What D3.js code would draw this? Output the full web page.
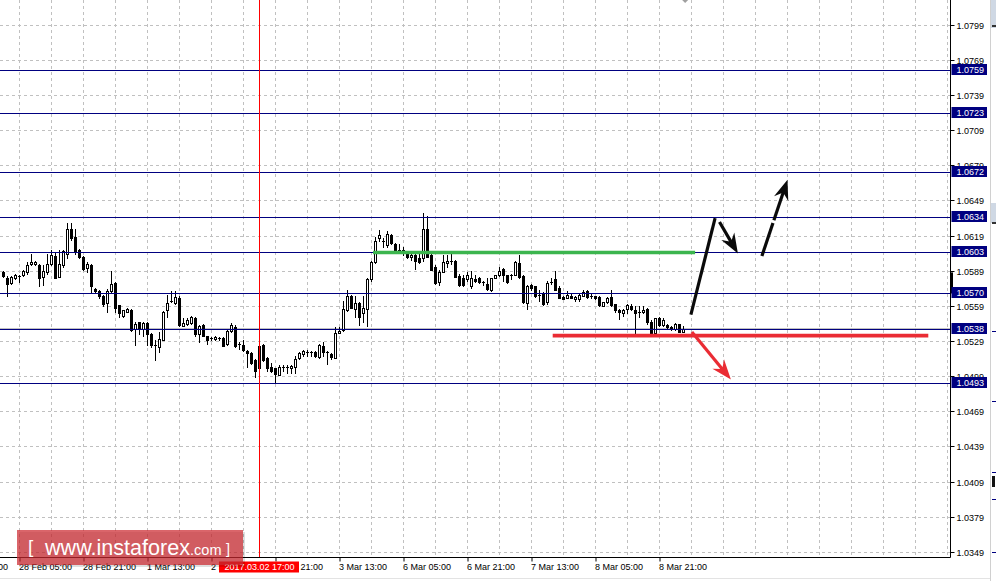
<!DOCTYPE html>
<html><head><meta charset="utf-8">
<script src="https://cdn.jsdelivr.net/npm/d3@7"></script>
<style>html,body{margin:0;padding:0;background:#fff;overflow:hidden}</style>
</head><body>
<svg id="c" width="996" height="581" xmlns="http://www.w3.org/2000/svg"></svg>
<script>
// ---------------- DATA ----------------
const firstBar = -4; // bar index of first candle (0 = 28 Feb 05:00, H1 bars)
const openP = [
1.0588,1.0583,1.0579,1.0583,1.0584,1.0586,1.0588,1.0595,1.0595,1.0594,
1.0584,1.0588,1.0595,1.0602,1.0584,1.0594,1.0604,1.0625,1.0618,1.0607,
1.0601,1.0592,1.0594,1.0574,1.0572,1.0568,1.0562,1.0572,1.0579,1.0560,
1.0551,1.0554,1.0556,1.0540,1.0546,1.0540,1.0545,1.0535,1.0526,1.0524,
1.0530,1.0556,1.0563,1.0562,1.0566,1.0542,1.0544,1.0545,1.0549,1.0535,
1.0543,1.0534,1.0532,1.0531,1.0532,1.0532,1.0527,1.0538,1.0541,1.0527,
1.0526,1.0521,1.0519,1.0513,1.0506,1.0526,1.0515,1.0507,1.0506,1.0500,
1.0506,1.0507,1.0506,1.0507,1.0515,1.0518,1.0520,1.0519,1.0520,1.0516,
1.0525,1.0519,1.0518,1.0515,1.0536,1.0539,1.0556,1.0568,1.0557,1.0562,
1.0553,1.0557,1.0582,1.0597,1.0617,1.0615,1.0611,1.0620,1.0612,1.0607,
1.0607,1.0605,1.0601,1.0603,1.0600,1.0600,1.0625,1.0603,1.0593,1.0580,
1.0588,1.0596,1.0597,1.0598,1.0585,1.0583,1.0582,1.0576,1.0582,1.0583,
1.0580,1.0578,1.0573,1.0583,1.0586,1.0591,1.0586,1.0585,1.0586,1.0596,
1.0585,1.0562,1.0577,1.0576,1.0569,1.0570,1.0563,1.0580,1.0582,1.0575,
1.0567,1.0566,1.0568,1.0565,1.0565,1.0568,1.0572,1.0567,1.0568,1.0567,
1.0559,1.0563,1.0567,1.0561,1.0556,1.0553,1.0557,1.0559,1.0556,1.0554,
1.0554,1.0557,1.0546,1.0536,1.0549,1.0543,1.0543,1.0541,1.0540,1.0544,1.0537];
const highP = [
1.0589,1.0585,1.0585,1.0587,1.0586,1.0590,1.0597,1.0604,1.0598,1.0595,
1.0594,1.0604,1.0607,1.0605,1.0607,1.0607,1.0630,1.0630,1.0625,1.0608,
1.0602,1.0597,1.0595,1.0575,1.0573,1.0569,1.0574,1.0589,1.0580,1.0560,
1.0556,1.0558,1.0557,1.0546,1.0546,1.0546,1.0546,1.0536,1.0530,1.0537,
1.0555,1.0569,1.0572,1.0572,1.0568,1.0549,1.0549,1.0551,1.0550,1.0543,
1.0544,1.0534,1.0533,1.0534,1.0533,1.0533,1.0540,1.0545,1.0543,1.0529,
1.0530,1.0522,1.0520,1.0514,1.0527,1.0527,1.0516,1.0511,1.0506,1.0509,
1.0509,1.0509,1.0509,1.0517,1.0520,1.0522,1.0522,1.0521,1.0521,1.0527,
1.0529,1.0521,1.0519,1.0541,1.0541,1.0564,1.0573,1.0569,1.0568,1.0563,
1.0568,1.0583,1.0598,1.0618,1.0624,1.0617,1.0623,1.0621,1.0613,1.0612,
1.0610,1.0605,1.0604,1.0604,1.0604,1.0639,1.0636,1.0604,1.0594,1.0590,
1.0603,1.0603,1.0604,1.0599,1.0587,1.0586,1.0588,1.0589,1.0586,1.0584,
1.0581,1.0583,1.0583,1.0586,1.0593,1.0592,1.0586,1.0587,1.0598,1.0603,
1.0586,1.0577,1.0578,1.0576,1.0573,1.0571,1.0581,1.0583,1.0589,1.0576,
1.0568,1.0572,1.0570,1.0568,1.0570,1.0573,1.0573,1.0570,1.0568,1.0568,
1.0563,1.0567,1.0573,1.0561,1.0557,1.0557,1.0561,1.0561,1.0559,1.0559,
1.0559,1.0558,1.0547,1.0549,1.0550,1.0549,1.0544,1.0542,1.0545,1.0544,1.0542];
const lowP = [
1.0584,1.0568,1.0578,1.0582,1.0580,1.0585,1.0587,1.0594,1.0594,1.0576,
1.0577,1.0587,1.0594,1.0583,1.0584,1.0593,1.0600,1.0616,1.0604,1.0600,
1.0590,1.0588,1.0570,1.0571,1.0566,1.0559,1.0554,1.0571,1.0554,1.0550,
1.0550,1.0554,1.0538,1.0526,1.0535,1.0534,1.0526,1.0524,1.0513,1.0520,
1.0530,1.0550,1.0563,1.0561,1.0542,1.0542,1.0543,1.0544,1.0534,1.0529,
1.0534,1.0527,1.0530,1.0530,1.0530,1.0525,1.0526,1.0537,1.0524,1.0523,
1.0521,1.0507,1.0510,1.0499,1.0499,1.0512,1.0504,1.0503,1.0494,1.0500,
1.0504,1.0502,1.0502,1.0502,1.0514,1.0517,1.0517,1.0517,1.0516,1.0515,
1.0517,1.0510,1.0514,1.0515,1.0536,1.0538,1.0555,1.0558,1.0550,1.0543,
1.0546,1.0542,1.0581,1.0596,1.0615,1.0610,1.0610,1.0612,1.0605,1.0605,
1.0603,1.0600,1.0599,1.0591,1.0596,1.0598,1.0601,1.0590,1.0578,1.0577,
1.0588,1.0593,1.0595,1.0584,1.0576,1.0576,1.0581,1.0575,1.0580,1.0579,
1.0577,1.0573,1.0572,1.0583,1.0585,1.0581,1.0579,1.0582,1.0586,1.0583,
1.0562,1.0557,1.0573,1.0567,1.0564,1.0560,1.0561,1.0578,1.0573,1.0566,
1.0565,1.0566,1.0566,1.0564,1.0564,1.0568,1.0566,1.0566,1.0565,1.0559,
1.0559,1.0562,1.0559,1.0554,1.0548,1.0551,1.0553,1.0556,1.0534,1.0550,
1.0553,1.0544,1.0536,1.0535,1.0542,1.0542,1.0540,1.0539,1.0539,1.0537,1.0537];
const closeP = [
1.0585,1.0578,1.0584,1.0586,1.0585,1.0589,1.0594,1.0597,1.0597,1.0583,
1.0589,1.0595,1.0603,1.0583,1.0595,1.0606,1.0625,1.0617,1.0605,1.0601,
1.0591,1.0595,1.0576,1.0572,1.0568,1.0561,1.0572,1.0578,1.0558,1.0553,
1.0556,1.0557,1.0539,1.0544,1.0540,1.0545,1.0535,1.0526,1.0525,1.0531,
1.0554,1.0562,1.0564,1.0567,1.0543,1.0545,1.0547,1.0550,1.0535,1.0542,
1.0534,1.0530,1.0531,1.0533,1.0531,1.0525,1.0538,1.0543,1.0525,1.0526,
1.0522,1.0519,1.0511,1.0504,1.0525,1.0513,1.0506,1.0504,1.0501,1.0507,
1.0507,1.0506,1.0508,1.0514,1.0519,1.0521,1.0519,1.0520,1.0517,1.0526,
1.0520,1.0520,1.0516,1.0536,1.0538,1.0557,1.0568,1.0558,1.0562,1.0550,
1.0558,1.0582,1.0597,1.0615,1.0620,1.0614,1.0621,1.0613,1.0606,1.0605,
1.0605,1.0601,1.0603,1.0598,1.0597,1.0625,1.0601,1.0590,1.0579,1.0588,
1.0597,1.0598,1.0598,1.0584,1.0577,1.0577,1.0586,1.0583,1.0581,1.0580,
1.0579,1.0574,1.0583,1.0586,1.0589,1.0586,1.0580,1.0586,1.0597,1.0584,
1.0563,1.0576,1.0575,1.0568,1.0568,1.0561,1.0579,1.0580,1.0573,1.0566,
1.0565,1.0569,1.0566,1.0567,1.0569,1.0571,1.0567,1.0568,1.0566,1.0560,
1.0563,1.0566,1.0560,1.0556,1.0554,1.0556,1.0560,1.0557,1.0553,1.0553,
1.0556,1.0546,1.0536,1.0549,1.0543,1.0547,1.0541,1.0540,1.0544,1.0537,1.0540];

const timeTickBars = [-16,0,16,32,48,64,80,96,112,128,144,160];
const timeTickLabels = ["27 Feb 13:00","28 Feb 05:00","28 Feb 21:00","1 Mar 13:00","2 Mar 05:00","2 Mar 21:00",
  "3 Mar 13:00","6 Mar 05:00","6 Mar 21:00","7 Mar 13:00","8 Mar 05:00","8 Mar 21:00"];
const priceTicks = [1.0799,1.0769,1.0739,1.0709,1.0679,1.0649,1.0619,1.0589,1.0559,1.0529,1.0499,1.0469,1.0439,1.0409,1.0379,1.0349];
const levelPrices = [1.07606,1.07241,1.06729,1.06351,1.06046,1.05702,1.05394,1.04933];
const levelLabels = ["1.0759","1.0723","1.0672","1.0634","1.0603","1.0570","1.0538","1.0493"];
const crossBar = 60;
const crossLabel = "2017.03.02 17:00";
const shiftBar = 166.4;
// marked support / resistance segments: [price, fromBar, toBar]
const greenSeg = [1.0605, 88.4, 168.9];
const redSeg = [1.0534, 133.3, 227.2];
// forecast arrows: [fromBar, fromPrice, toBar, toPrice]
const blackLegs = [[167.85,1.0552,173.9,1.06344]];
const blackArrows = [[175.0,1.0631,179.6,1.06041],[185.6,1.0602,192.0,1.06672]];
const redArrows = [[168.1,1.05371,177.85,1.04965]];

// ---------------- SCALES ----------------
const W = 996, H = 581, plotR = 950.5, plotB = 557.5;
const x = d3.scaleLinear().domain([-4.875, 232.75]).range([0, 950.5]);
const y = d3.scaleLinear().domain([1.0349, 1.0799]).range([552.3, 25.3]);
const crisp = v => Math.floor(v) + 0.5;
const FONT = "'Liberation Sans', Arial, sans-serif";

const svg = d3.select("#c");
svg.append("rect").attr("width", W).attr("height", H).attr("fill", "#fff");

const plot = svg.append("g");
// grid
const grid = plot.append("g").attr("stroke", "#c0c0c0").attr("stroke-dasharray", "3,3").attr("stroke-width", 1);
grid.selectAll("line.h").data(priceTicks).enter().append("line")
  .attr("x1", 0).attr("x2", plotR).attr("y1", d => crisp(y(d))).attr("y2", d => crisp(y(d)));
grid.selectAll("line.v").data(d3.range(0, 233, 8)).enter().append("line")
  .attr("y1", 0).attr("y2", plotB).attr("x1", d => x(d)).attr("x2", d => x(d));

// bid line
plot.append("line").attr("x1", 0).attr("x2", plotR)
  .attr("y1", crisp(y(closeP[closeP.length - 1]))).attr("y2", crisp(y(closeP[closeP.length - 1])))
  .attr("stroke", "#c0c0c0").attr("stroke-width", 1);

// candles
const bars = openP.map((o, k) => ({ i: firstBar + k, o, h: highP[k], l: lowP[k], c: closeP[k] }));
const cg = plot.append("g");
cg.selectAll("rect.w").data(bars).enter().append("rect")
  .attr("x", d => x(d.i) - 0.5).attr("width", 1)
  .attr("y", d => Math.round(y(d.h)))
  .attr("height", d => Math.max(1, Math.round(y(d.l)) - Math.round(y(d.h)) + 1))
  .attr("fill", "#000");
bars.forEach(d => {
  const top = Math.round(y(Math.max(d.o, d.c)));
  const bot = Math.round(y(Math.min(d.o, d.c)));
  const h = bot - top;
  const cx = x(d.i);
  if (h <= 1) {
    cg.append("rect").attr("x", cx - 1.5).attr("y", top).attr("width", 3).attr("height", 1).attr("fill", "#000");
  } else if (d.c > d.o) {
    cg.append("rect").attr("x", cx - 1).attr("y", top + 0.5).attr("width", 2).attr("height", h - 1 + 1)
      .attr("fill", "#fff").attr("stroke", "#000").attr("stroke-width", 1);
  } else {
    cg.append("rect").attr("x", cx - 1.5).attr("y", top).attr("width", 3).attr("height", h + 1).attr("fill", "#000");
  }
});

// horizontal level lines
plot.selectAll("line.lvl").data(levelPrices).enter().append("line")
  .attr("x1", 0).attr("x2", plotR).attr("y1", d => crisp(y(d))).attr("y2", d => crisp(y(d)))
  .attr("stroke", "#000080").attr("stroke-width", 1);

// green & red segments
plot.append("line").attr("x1", x(greenSeg[1])).attr("x2", x(greenSeg[2]))
  .attr("y1", y(greenSeg[0])).attr("y2", y(greenSeg[0]))
  .attr("stroke", "#3cb54e").attr("stroke-width", 3.6);
plot.append("line").attr("x1", x(redSeg[1])).attr("x2", x(redSeg[2]))
  .attr("y1", y(redSeg[0])).attr("y2", y(redSeg[0]))
  .attr("stroke", "#ea2c34").attr("stroke-width", 3.6);

// arrows
function arrow(a, color, withHead, gapAt) {
  const x1 = x(a[0]), y1 = y(a[1]), x2 = x(a[2]), y2 = y(a[3]);
  const dx = x2 - x1, dy = y2 - y1, len = Math.hypot(dx, dy);
  const ux = dx / len, uy = dy / len, nx = -uy, ny = ux;
  const L = withHead ? 20 : 0, Wd = 15;
  const ex = x2 - ux * (withHead ? L * 0.65 : 0), ey = y2 - uy * (withHead ? L * 0.65 : 0);
  if (gapAt != null) {
    const g1 = gapAt - 1.8, g2 = gapAt + 1.8;
    plot.append("line").attr("x1", x1).attr("y1", y1).attr("x2", x1 + ux * len * g1 / 100).attr("y2", y1 + uy * len * g1 / 100)
      .attr("stroke", color).attr("stroke-width", 3.2);
    plot.append("line").attr("x1", x1 + ux * len * g2 / 100).attr("y1", y1 + uy * len * g2 / 100).attr("x2", ex).attr("y2", ey)
      .attr("stroke", color).attr("stroke-width", 3.2);
  } else {
    plot.append("line").attr("x1", x1).attr("y1", y1).attr("x2", ex).attr("y2", ey)
      .attr("stroke", color).attr("stroke-width", 3.2);
  }
  if (withHead) {
    const bx = x2 - ux * L, by = y2 - uy * L;
    const pts = [[x2, y2], [bx + nx * Wd / 2, by + ny * Wd / 2], [x2 - ux * L * 0.68, y2 - uy * L * 0.68], [bx - nx * Wd / 2, by - ny * Wd / 2]];
    plot.append("path").attr("d", "M" + pts.map(p => p.join(",")).join("L") + "Z").attr("fill", color);
  }
}
blackLegs.forEach(a => arrow(a, "#0a0a0a", false));
arrow(blackArrows[0], "#0a0a0a", true);
arrow(blackArrows[1], "#0a0a0a", true, 45);
redArrows.forEach(a => arrow(a, "#ea2c34", true));

// crosshair
plot.append("line").attr("x1", x(crossBar)).attr("x2", x(crossBar)).attr("y1", 0).attr("y2", plotB)
  .attr("stroke", "#ff0000").attr("stroke-width", 1);

// chart shift marker
const sx = x(shiftBar);
svg.append("path").attr("d", `M${sx - 3},0L${sx + 3},0L${sx},3Z`).attr("fill", "#a0a0a0");

// frame
svg.append("line").attr("x1", plotR).attr("x2", plotR).attr("y1", 0).attr("y2", plotB).attr("stroke", "#000");
svg.append("line").attr("x1", 0).attr("x2", plotR).attr("y1", plotB).attr("y2", plotB).attr("stroke", "#000");

// right axis
const yAxis = d3.axisRight(y).tickValues(priceTicks).tickFormat(d3.format(".4f")).tickSize(4).tickPadding(2);
const ya = svg.append("g").attr("transform", `translate(${plotR},0)`).call(yAxis);
ya.select(".domain").remove();
ya.selectAll(".tick").attr("transform", d => `translate(0,${crisp(y(d))})`);
ya.selectAll(".tick line").attr("stroke", "#000");
ya.selectAll(".tick text").attr("x", 6).attr("dy", null).attr("y", 3.2)
  .attr("font-family", FONT).attr("font-size", 9).attr("fill", "#000");

// bottom axis
const xAxis = d3.axisBottom(x).tickValues(timeTickBars).tickFormat((d, k) => timeTickLabels[k]).tickSize(4);
const xa = svg.append("g").attr("transform", `translate(0,${plotB})`).call(xAxis);
xa.select(".domain").remove();
xa.selectAll(".tick line").attr("stroke", "#000");
xa.selectAll(".tick text").attr("text-anchor", "start").attr("x", -1).attr("dy", null).attr("y", 12.5)
  .attr("font-family", FONT).attr("font-size", 9).attr("fill", "#000");

// mark on axis edge
svg.append("rect").attr("x", 950).attr("y", y(1.0588)).attr("width", 3).attr("height", y(1.0570) - y(1.0588)).attr("fill", "#000");

// level labels on axis
const lg = svg.append("g");
levelPrices.forEach((p, k) => {
  const ly = crisp(y(p));
  lg.append("rect").attr("x", 951.5).attr("y", ly - 6.5).attr("width", 35.5).attr("height", 11).attr("fill", "#000080");
  lg.append("text").attr("x", 956.5).attr("y", ly + 2.5).text(levelLabels[k])
    .attr("font-family", FONT).attr("font-size", 9).attr("fill", "#fff");
});

// crosshair time label
const cxl = x(crossBar);
svg.append("rect").attr("x", cxl - 40.5).attr("y", 561.5).attr("width", 80).attr("height", 11).attr("fill", "#ff0000");
svg.append("text").attr("x", cxl).attr("y", 570).attr("text-anchor", "middle").text(crossLabel)
  .attr("font-family", FONT).attr("font-size", 9).attr("fill", "#fff");

// window edges
svg.append("line").attr("x1", 0).attr("x2", 990).attr("y1", 578.5).attr("y2", 578.5).attr("stroke", "#e3e3e3");
svg.append("line").attr("x1", 990.5).attr("x2", 990.5).attr("y1", 0).attr("y2", H).attr("stroke", "#d0d0d0");
const edge = svg.append("g");
edge.append("rect").attr("x", 991).attr("y", 0).attr("width", 5).attr("height", 28).attr("fill", "#cfd8e4");
edge.append("rect").attr("x", 991).attr("y", 203).attr("width", 5).attr("height", 20).attr("fill", "#cfd8e4");
[25, 222].forEach(v => edge.append("rect").attr("x", 992).attr("y", v).attr("width", 4).attr("height", 2).attr("fill", "#333"));
[331, 401, 472, 499, 552].forEach(v => edge.append("rect").attr("x", 992).attr("y", v).attr("width", 4).attr("height", 1).attr("fill", "#000080"));
edge.append("rect").attr("x", 992).attr("y", 476).attr("width", 3).attr("height", 11).attr("fill", "#111");

// watermark
const wm = svg.append("g");
wm.append("rect").attr("x", 19).attr("y", 532).attr("width", 226).attr("height", 35).attr("fill", "#000").attr("opacity", 0.13);
wm.append("rect").attr("x", 17).attr("y", 530).attr("width", 226).attr("height", 35).attr("fill", "#cc2a30").attr("opacity", 0.72);
wm.append("text").attr("x", 28).attr("y", 553).text("[").attr("font-family", FONT).attr("font-size", 19).attr("fill", "#fff");
wm.append("text").attr("x", 45).attr("y", 555).text("www.instaforex").attr("font-family", FONT).attr("font-size", 22)
  .attr("textLength", 145).attr("lengthAdjust", "spacingAndGlyphs").attr("fill", "#fff");
wm.append("text").attr("x", 190).attr("y", 555).text(".com").attr("font-family", FONT).attr("font-size", 15.5)
  .attr("textLength", 31.5).attr("lengthAdjust", "spacingAndGlyphs").attr("fill", "#fff");
wm.append("text").attr("x", 226).attr("y", 554).text("]").attr("font-family", FONT).attr("font-size", 14.5).attr("fill", "#fff");
</script>
</body></html>
